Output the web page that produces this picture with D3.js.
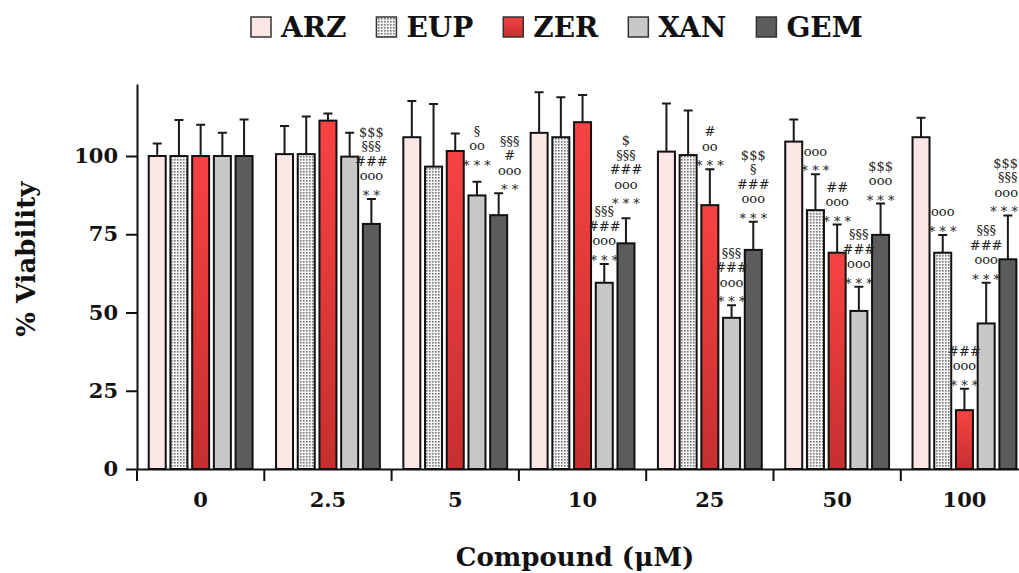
<!DOCTYPE html>
<html>
<head>
<meta charset="utf-8">
<script src="https://cdn.jsdelivr.net/npm/d3@7"></script>
<style>
  html, body { margin: 0; padding: 0; background: #fff; }
  svg { display: block; }
</style>
</head>
<body>
<svg id="chart" width="1019" height="573"></svg>
<script>
// doses on the x axis
const doses = ['0', '2.5', '5', '10', '25', '50', '100'];
const compounds = ['ARZ', 'EUP', 'ZER', 'XAN', 'GEM'];

// mean % viability per dose
const arz = [100, 100.6, 106, 107.4, 101.4, 104.6, 106];
const eup = [100, 100.6, 96.6, 106, 100.3, 82.7, 69.1];
const zer = [100, 111.3, 101.6, 110.8, 84.3, 69.1, 18.8];
const xan = [100, 99.8, 87.4, 59.5, 48.3, 50.5, 46.5];
const gem = [100, 78.3, 81.1, 72.1, 70, 74.8, 67];

// upper error (SD)
const arzErr = [4, 9, 11.6, 13, 15.4, 7.1, 6.2];
const eupErr = [11.5, 12, 20, 12.8, 14.2, 11.5, 5.7];
const zerErr = [10, 2.3, 5.6, 8.7, 11.5, 9, 6.8];
const xanErr = [7.4, 7.6, 4.4, 6, 4, 7.7, 13];
const gemErr = [11.7, 8, 7, 8, 9, 10, 14];

const yTicks = [0, 25, 50, 75, 100];

// significance marks, listed top line first
const marks = [
  ['2.5', 'GEM', ['$$$', '§§§', '###', 'ooo', '* *']],
  ['5', 'XAN', ['§', 'oo', '* * *']],
  ['5', 'GEM', ['§§§', '#', 'ooo', '* *']],
  ['10', 'XAN', ['§§§', '###', 'ooo', '* * *']],
  ['10', 'GEM', ['$', '§§§', '###', 'ooo', '* * *']],
  ['25', 'ZER', ['#', 'oo', '* * *']],
  ['25', 'XAN', ['§§§', '###', 'ooo', '* * *']],
  ['25', 'GEM', ['$$$', '§', '###', 'ooo', '* * *']],
  ['50', 'EUP', ['ooo', '* * *']],
  ['50', 'ZER', ['##', 'ooo', '* * *']],
  ['50', 'XAN', ['§§§', '###', 'ooo', '* * *']],
  ['50', 'GEM', ['$$$', 'ooo', '* * *']],
  ['100', 'EUP', ['ooo', '* * *']],
  ['100', 'ZER', ['###', 'ooo', '* * *']],
  ['100', 'XAN', ['§§§', '###', 'ooo', '* * *']],
  ['100', 'GEM', ['$$$', '§§§', 'ooo', '* * *']]
];

const means = { ARZ: arz, EUP: eup, ZER: zer, XAN: xan, GEM: gem };
const errs = { ARZ: arzErr, EUP: eupErr, ZER: zerErr, XAN: xanErr, GEM: gemErr };

const fills = {
  ARZ: '#fde6e6',
  EUP: 'url(#dots)',
  ZER: 'url(#redGrad)',
  XAN: '#c8c8c8',
  GEM: '#5c5c5c'
};

const font = '"DejaVu Serif", serif';
const svg = d3.select('#chart');

// defs: dotted pattern for EUP, gradient for ZER
const defs = svg.append('defs');
const pat = defs.append('pattern')
  .attr('id', 'dots')
  .attr('patternUnits', 'userSpaceOnUse')
  .attr('width', 3).attr('height', 3);
pat.append('rect').attr('width', 3).attr('height', 3).attr('fill', '#f4f4f4');
pat.append('rect').attr('width', 1.6).attr('height', 1.6).attr('fill', '#777');

const grad = defs.append('linearGradient')
  .attr('id', 'redGrad')
  .attr('x1', '0%').attr('x2', '0%')
  .attr('y1', '0%').attr('y2', '100%');
grad.append('stop').attr('offset', '0%').attr('stop-color', '#f84242');
grad.append('stop').attr('offset', '100%').attr('stop-color', '#c62f2f');

const left = 137, bottom = 469;
const groupW = 127.3;

const x = d3.scaleBand()
  .domain(doses)
  .range([left, left + groupW * doses.length]);

const xs = d3.scaleBand()
  .domain(compounds)
  .range([0, groupW])
  .paddingInner(0.217)
  .paddingOuter(0.54);

const y = d3.scaleLinear()
  .domain([0, 123])
  .range([bottom, bottom - 123 * 3.13]);

// bars
const rows = [];
doses.forEach((d, i) => {
  compounds.forEach(c => {
    rows.push({ dose: d, comp: c, v: means[c][i], e: errs[c][i] });
  });
});

const bw = xs.bandwidth();
const capW = 9;

const gBars = svg.append('g');
// error bars first so the bar outline sits on top
gBars.selectAll('.err')
  .data(rows)
  .join('path')
    .attr('class', 'err')
    .attr('fill', 'none')
    .attr('stroke', '#1a1a1a')
    .attr('stroke-width', 2)
    .attr('d', r => {
      const cx = x(r.dose) + xs(r.comp) + bw / 2;
      const top = y(r.v + r.e);
      return `M${cx},${y(r.v)}V${top}M${cx - capW / 2},${top}H${cx + capW / 2}`;
    });

gBars.selectAll('.bar')
  .data(rows)
  .join('rect')
    .attr('class', 'bar')
    .attr('x', r => x(r.dose) + xs(r.comp))
    .attr('y', r => y(r.v))
    .attr('width', bw)
    .attr('height', r => y(0) - y(r.v))
    .attr('fill', r => fills[r.comp])
    .attr('stroke', '#111')
    .attr('stroke-width', 2);

// significance marks stacked above the error bars
// a few stacks sit off their bar in the original figure
const nudge = { '5|GEM': [11, 0], '5|XAN': [0, -13], '10|GEM': [0, -11] };
const lineH = 14.5;
const gMarks = svg.append('g')
  .attr('font-family', font)
  .attr('font-size', 13)
  .attr('fill', '#222')
  .attr('text-anchor', 'middle');
marks.forEach(([d, c, lines]) => {
  const i = doses.indexOf(d);
  const [dx, dy] = nudge[`${d}|${c}`] || [0, 0];
  const cx = x(d) + xs(c) + bw / 2 + dx;
  const base = y(means[c][i] + errs[c][i]) - 4 + dy;
  const n = lines.length;
  lines.forEach((t, k) => {
    const star = t.includes('*');
    const txt = gMarks.append('text')
      .attr('x', cx)
      .attr('y', base - (n - 1 - k) * lineH + (star ? 5 : 0))
      .text(t);
    // keep the stack inside the picture at the right edge
    const half = txt.node().getComputedTextLength() / 2;
    if (cx + half > 1018) txt.attr('x', 1018 - half);
  });
});

// y axis
const yAxis = d3.axisLeft(y)
  .tickValues(yTicks)
  .tickSize(11)
  .tickSizeOuter(0)
  .tickPadding(8);
const gy = svg.append('g')
  .attr('transform', `translate(${left},0)`)
  .call(yAxis);
gy.select('.domain').attr('stroke', '#111').attr('stroke-width', 2);
gy.selectAll('.tick line').attr('stroke', '#111').attr('stroke-width', 2);
gy.selectAll('.tick text')
  .attr('font-family', font)
  .attr('font-weight', 'bold')
  .attr('font-size', 21)
  .attr('fill', '#111');

// x axis: labels at the centre of each dose, ticks at the group edges
const xAxis = d3.axisBottom(x).tickSize(0).tickSizeOuter(0).tickPadding(23);
const gx = svg.append('g')
  .attr('transform', `translate(0,${bottom})`)
  .call(xAxis);
gx.select('.domain').attr('stroke', '#111').attr('stroke-width', 2);
gx.selectAll('.tick text')
  .attr('font-family', font)
  .attr('font-weight', 'bold')
  .attr('font-size', 21)
  .attr('fill', '#111');
gx.selectAll('.edge')
  .data(doses)
  .join('line')
    .attr('class', 'edge')
    .attr('x1', d => x(d)).attr('x2', d => x(d))
    .attr('y1', 0).attr('y2', 12)
    .attr('stroke', '#111')
    .attr('stroke-width', 2);

// axis titles
svg.append('text')
  .attr('transform', `translate(35,${y(67)}) rotate(-90)`)
  .attr('text-anchor', 'middle')
  .attr('font-family', font)
  .attr('font-weight', 'bold')
  .attr('font-size', 26)
  .attr('fill', '#111')
  .text('% Viability');

svg.append('text')
  .attr('x', 575)
  .attr('y', 566)
  .attr('text-anchor', 'middle')
  .attr('font-family', font)
  .attr('font-weight', 'bold')
  .attr('font-size', 26)
  .attr('fill', '#111')
  .text('Compound (μM)');

// legend
const gLeg = svg.append('g').attr('font-family', font);
let lx = 251;
compounds.forEach(c => {
  gLeg.append('rect')
    .attr('x', lx).attr('y', 17)
    .attr('width', 20).attr('height', 20)
    .attr('fill', fills[c])
    .attr('stroke', '#333')
    .attr('stroke-width', 1.5);
  const t = gLeg.append('text')
    .attr('x', lx + 30)
    .attr('y', 37)
    .attr('font-weight', 'bold')
    .attr('font-size', 28)
    .attr('fill', '#111')
    .text(c);
  lx += 30 + t.node().getComputedTextLength() + 30;
});
</script>
</body>
</html>
